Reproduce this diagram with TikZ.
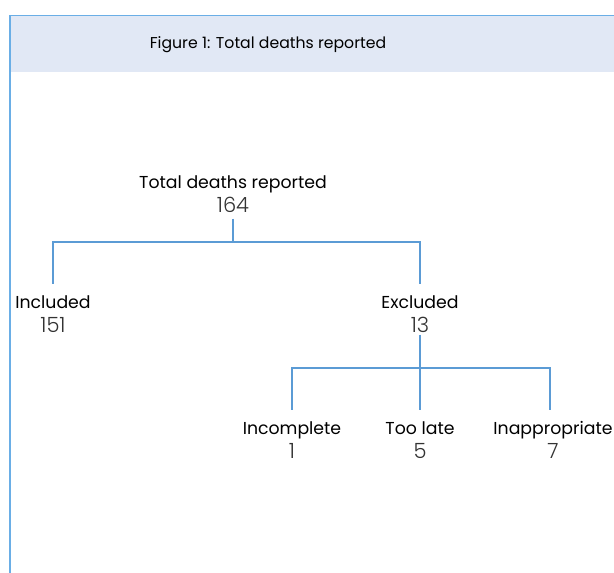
\documentclass[tikz,border=0pt]{standalone}
\usepackage{fontspec}
\setmainfont{Poppins}
\newfontfamily\numfont{Poppins Light}
\usetikzlibrary{positioning}
\definecolor{linkblue}{HTML}{5B9BD5}
\definecolor{headfill}{HTML}{E1E8F5}
\definecolor{frameblue}{HTML}{6AAEE6}
\newcommand{\cnt}[1]{{\numfont\fontsize{21}{24}\selectfont\color{black!80}#1}}

\begin{document}
\begin{tikzpicture}[x=1pt,y=-1pt,
  lbl/.style={align=center,inner xsep=0pt,inner ysep=6pt,font=\fontsize{17.3}{24}\selectfont},
  link/.style={draw=linkblue,line width=1.3pt,shorten >=5pt}]
\useasboundingbox (0,0) rectangle (614,573);
% header band and frame
\fill[headfill] (9,15) rectangle (614,72);
\draw[frameblue,line width=1pt] (9,15) -- (614,15);
\draw[frameblue,line width=2pt] (10,15) -- (10,573);
\node[font=\fontsize{15.7}{18}\selectfont] (title) at (268,45) {Figure 1: Total deaths reported};
% tree
\node[lbl] (total) at (233,194) {Total deaths reported\\\cnt{164}};
\node[lbl] (incl) at (53,314) {Included\\\cnt{151}};
\node[lbl] (excl) at (420,314) {Excluded\\\cnt{13}};
\node[lbl] (incomp) at (292,440) {Incomplete\\\cnt{1}};
\node[lbl] (late) at (420,440) {Too late\\\cnt{5}};
\node[lbl] (inapp) at (553,440) {Inappropriate\\\cnt{7}};
\coordinate (bar1) at (233,242);
\coordinate (bar2) at (420,368);
\draw[link] (total.south) -- (bar1) -| (incl.north);
\draw[link] (bar1) -| (excl.north);
\draw[link] ([yshift=4pt]excl.south) -- (bar2) -| (incomp.north);
\draw[link] (bar2) -- (late.north);
\draw[link] (bar2) -| ([xshift=-3pt]inapp.north);
\end{tikzpicture}
\end{document}
